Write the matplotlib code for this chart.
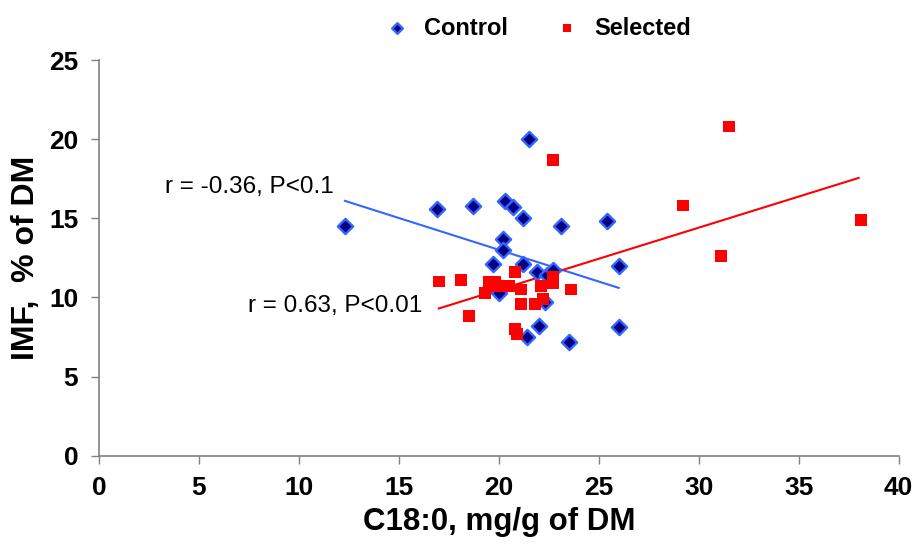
import matplotlib.pyplot as plt
import numpy as np

plt.rcParams['font.family'] = ['Liberation Sans', 'DejaVu Sans']

# Control group (C18:0 vs IMF)
control_x = [12.3, 16.9, 18.7, 20.3, 20.7, 21.2, 21.5, 23.1, 25.4, 20.2, 20.2,
             19.7, 21.2, 26.0, 21.9, 22.4, 22.7, 20.0, 22.3, 22.0, 26.0, 21.4, 23.5]
control_y = [14.5, 15.6, 15.8, 16.1, 15.7, 15.0, 20.0, 14.5, 14.8, 13.7, 13.0,
             12.1, 12.1, 12.0, 11.6, 11.4, 11.7, 10.3, 9.7, 8.2, 8.1, 7.5, 7.2]

# Selected group
selected_x = [22.7, 17.0, 18.1, 19.5, 19.8, 19.9, 19.3, 20.5, 20.8, 21.1, 21.1,
              21.8, 22.1, 22.2, 22.7, 22.7, 23.6, 18.5, 20.8, 20.9,
              31.5, 29.2, 38.1, 31.1]
selected_y = [18.7, 11.0, 11.1, 11.0, 11.0, 10.7, 10.3, 10.7, 11.6, 10.5, 9.6,
              9.6, 10.7, 9.9, 11.3, 10.9, 10.5, 8.8, 8.0, 7.7,
              20.8, 15.8, 14.9, 12.6]

# regression lines as drawn (end points)
control_fit_x = [12.3, 26.0]
control_fit_y = [16.1, 10.6]
selected_fit_x = [17.0, 38.0]
selected_fit_y = [9.3, 17.55]

fig = plt.figure(figsize=(9.17, 5.48), dpi=100)
ax = fig.add_axes([0.108, 0.1685, 0.872, 0.722])

ax.plot(control_fit_x, control_fit_y, color='#3366FF', lw=1.5, zorder=2)
ax.plot(selected_fit_x, selected_fit_y, color='#FF0000', lw=1.5, zorder=2)

ax.scatter(control_x, control_y, marker='D', s=60, facecolor='#000080',
           edgecolor='#3366FF', linewidths=1.7, zorder=3, label='Control')
ax.scatter(selected_x, selected_y, marker='s', s=72, facecolor='#FF0000',
           edgecolor='none', zorder=4, label='Selected')

ax.text(3.3, 17.0, 'r = -0.36, P<0.1', fontsize=17.5, ha='left', va='center')
ax.text(7.45, 9.45, 'r = 0.63, P<0.01', fontsize=17.5, ha='left', va='center')

ax.set_xlim(0, 40)
ax.set_ylim(0, 25)
ax.set_xticks(np.arange(0, 41, 5))
ax.set_yticks(np.arange(0, 26, 5))

for s in ['top', 'right']:
    ax.spines[s].set_visible(False)
for s in ['left', 'bottom']:
    ax.spines[s].set_color('#808080')
    ax.spines[s].set_linewidth(1.2)
ax.tick_params(direction='out', length=6, width=1, color='#808080',
               labelsize=19, pad=9)
for lab in ax.get_xticklabels() + ax.get_yticklabels():
    lab.set_fontweight('bold')

ax.set_xlabel('C18:0, mg/g of DM', fontsize=22.5, fontweight='bold', labelpad=5)
ax.set_ylabel('IMF,  % of DM', fontsize=23, fontweight='bold', labelpad=6)

fig.legend(loc='upper center', bbox_to_anchor=(0.58, 1.0), ncol=2,
           frameon=False, prop={'weight': 'bold', 'size': 17},
           handletextpad=0.15, columnspacing=1.5, markerscale=0.7,
           borderaxespad=0.3)

fig.savefig('out.png', dpi=100)
